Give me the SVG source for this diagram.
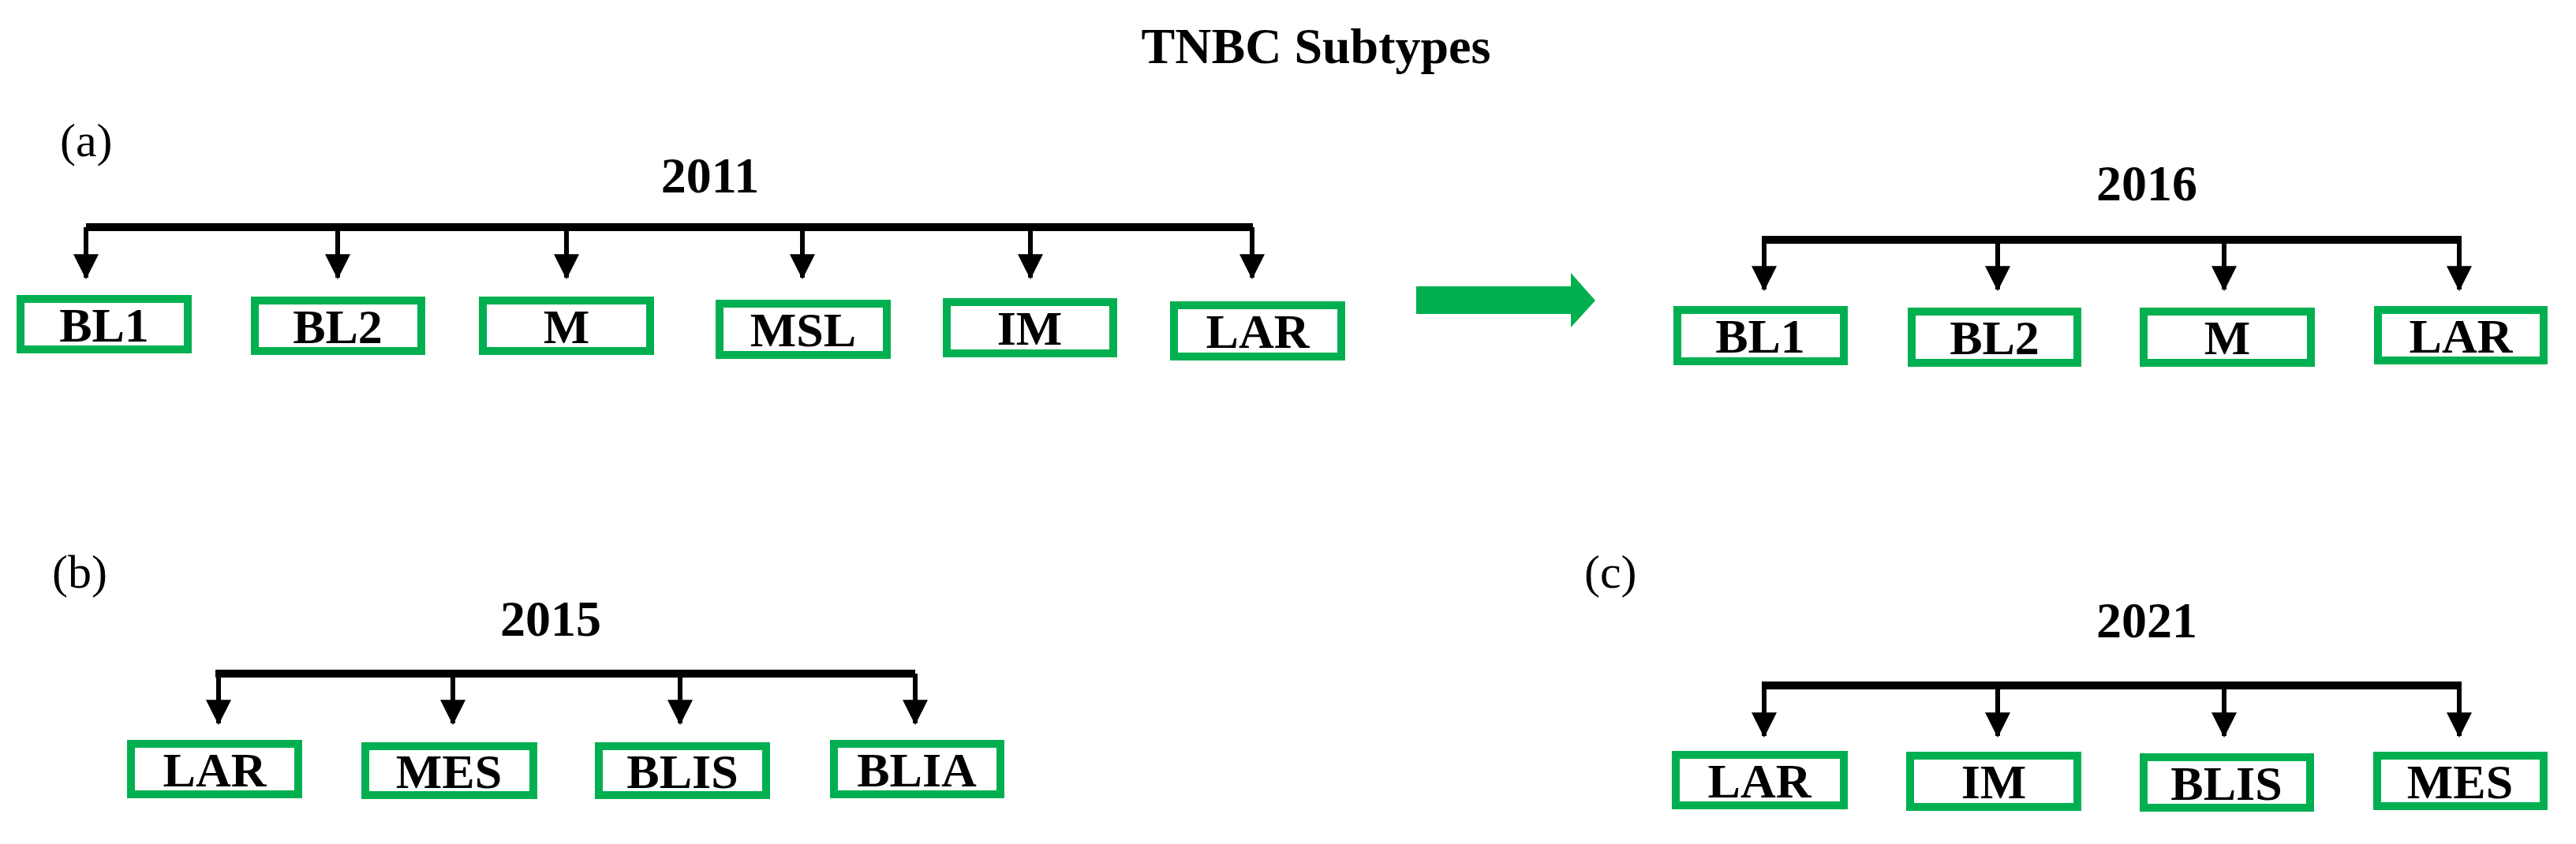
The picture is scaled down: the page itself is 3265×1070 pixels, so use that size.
<svg xmlns="http://www.w3.org/2000/svg" width="3265" height="1070" viewBox="0 0 3265 1070">
<style>
text{font-family:"Liberation Serif","Times New Roman",serif;font-weight:bold;fill:#000}
.t{font-size:64px;text-anchor:middle}
.lab{font-size:60px;font-weight:normal}
.b rect{fill:#fff;stroke:#00b050;stroke-width:10}
.b text{font-size:62px;text-anchor:middle}
.br{stroke:#000;stroke-width:10;fill:none}
.st{stroke:#000;stroke-width:6;fill:none;marker-end:url(#ah)}
</style>
<defs>
<marker id="ah" markerUnits="userSpaceOnUse" markerWidth="32" markerHeight="32" refX="15" refY="28" orient="0" viewBox="0 0 30 30">
<path d="M0,0 L30,0 L15,30 Z" fill="#000"/>
</marker>
</defs>
<rect width="3265" height="1070" fill="#fff"/>
<text class="t" x="1668" y="80">TNBC Subtypes</text>
<text class="lab" x="76" y="198">(a)</text>
<text class="lab" x="66" y="745">(b)</text>
<text class="lab" x="2008" y="745">(c)</text>
<text class="t" x="900" y="244">2011</text>
<text class="t" x="2721" y="254">2016</text>
<text class="t" x="698" y="806">2015</text>
<text class="t" x="2721" y="808">2021</text>
<g id="connectors">
<path class="br" d="M109,288 H1588"/>
<path class="st" d="M109,288 V352"/><path class="st" d="M428,288 V352"/><path class="st" d="M718,288 V352"/><path class="st" d="M1017,288 V352"/><path class="st" d="M1306,288 V352"/><path class="st" d="M1587,288 V352"/>
<path class="br" d="M2233,304 H3120"/>
<path class="st" d="M2236,304 V367"/><path class="st" d="M2532,304 V367"/><path class="st" d="M2819,304 V367"/><path class="st" d="M3117,304 V367"/>
<path class="br" d="M273,854 H1160"/>
<path class="st" d="M277,854 V917"/><path class="st" d="M574,854 V917"/><path class="st" d="M862,854 V917"/><path class="st" d="M1160,854 V917"/>
<path class="br" d="M2233,869 H3120"/>
<path class="st" d="M2236,869 V933"/><path class="st" d="M2532,869 V933"/><path class="st" d="M2819,869 V933"/><path class="st" d="M3117,869 V933"/>
<path id="bigarrow" d="M1795,363 H1991 V346 L2022,381 L1991,415 V398 H1795 Z" fill="#00b04f"/>
</g>
<g id="a-BL1" class="b"><rect x="26" y="379" width="212" height="64"/><text x="132" y="433">BL1</text></g>
<g id="a-BL2" class="b"><rect x="323" y="381" width="211" height="64"/><text x="428" y="435">BL2</text></g>
<g id="a-M" class="b"><rect x="612" y="381" width="212" height="64"/><text x="718" y="435">M</text></g>
<g id="a-MSL" class="b"><rect x="912" y="385" width="212" height="65"/><text x="1018" y="439">MSL</text></g>
<g id="a-IM" class="b"><rect x="1200" y="383" width="211" height="65"/><text x="1305" y="437">IM</text></g>
<g id="a-LAR" class="b"><rect x="1488" y="387" width="212" height="65"/><text x="1594" y="441">LAR</text></g>
<g id="c16-BL1" class="b"><rect x="2126" y="393" width="211" height="65"/><text x="2231" y="447">BL1</text></g>
<g id="c16-BL2" class="b"><rect x="2423" y="395" width="210" height="65"/><text x="2528" y="449">BL2</text></g>
<g id="c16-M" class="b"><rect x="2717" y="395" width="212" height="65"/><text x="2823" y="449">M</text></g>
<g id="c16-LAR" class="b"><rect x="3014" y="393" width="210" height="64"/><text x="3119" y="447">LAR</text></g>
<g id="b-LAR" class="b"><rect x="166" y="943" width="212" height="64"/><text x="272" y="997">LAR</text></g>
<g id="b-MES" class="b"><rect x="463" y="946" width="213" height="62"/><text x="569" y="999">MES</text></g>
<g id="b-BLIS" class="b"><rect x="759" y="946" width="212" height="62"/><text x="865" y="999">BLIS</text></g>
<g id="b-BLIA" class="b"><rect x="1057" y="943" width="211" height="64"/><text x="1162" y="997">BLIA</text></g>
<g id="c-LAR" class="b"><rect x="2124" y="957" width="213" height="64"/><text x="2230" y="1011">LAR</text></g>
<g id="c-IM" class="b"><rect x="2421" y="958" width="212" height="65"/><text x="2527" y="1012">IM</text></g>
<g id="c-BLIS" class="b"><rect x="2717" y="960" width="211" height="64"/><text x="2822" y="1014">BLIS</text></g>
<g id="c-MES" class="b"><rect x="3013" y="958" width="211" height="64"/><text x="3118" y="1012">MES</text></g>
</svg>
